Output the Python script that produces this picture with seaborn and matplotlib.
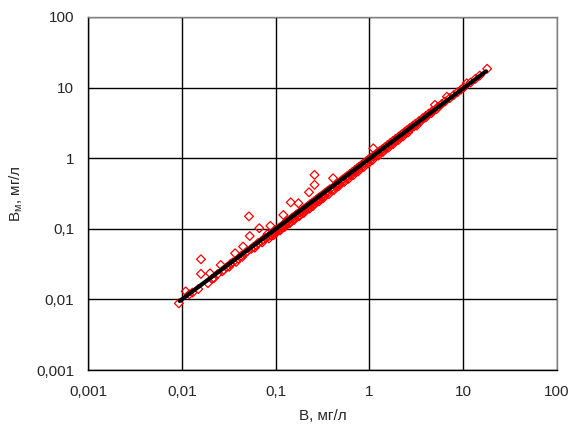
import matplotlib
matplotlib.use("Agg")
import matplotlib.pyplot as plt
import matplotlib.ticker as mticker
import seaborn as sns
import pandas as pd

b_obs = [
    0.0093, 0.011, 0.012, 0.013, 0.016, 0.016, 0.019, 0.02, 0.021, 0.024,
    0.026, 0.028, 0.03, 0.033, 0.035, 0.037, 0.04, 0.043, 0.045, 0.047,
    0.05, 0.052, 0.053, 0.055, 0.058, 0.062, 0.065, 0.067, 0.07, 0.074,
    0.078, 0.082, 0.084, 0.088, 0.092, 0.096, 0.1, 0.105, 0.11, 0.115,
    0.12, 0.121, 0.125, 0.13, 0.135, 0.14, 0.145, 0.15, 0.155, 0.16,
    0.165, 0.17, 0.175, 0.18, 0.19, 0.2, 0.21, 0.22, 0.227, 0.235,
    0.245, 0.255, 0.26, 0.26, 0.27, 0.28, 0.29, 0.3, 0.32, 0.34,
    0.36, 0.38, 0.41, 0.43, 0.46, 0.49, 0.52, 0.55, 0.58, 0.62,
    0.66, 0.7, 0.74, 0.78, 0.83, 0.88, 0.93, 0.98, 1.03, 1.1,
    1.1, 1.16, 1.23, 1.3, 1.38, 1.47, 1.56, 1.66, 1.78, 1.9,
    2.05, 2.2, 2.35, 2.5, 2.7, 2.9, 3.1, 3.4, 3.7, 4.0,
    4.3, 4.7, 5.0, 5.4, 5.9, 6.4, 6.7, 7.2, 7.9, 8.7,
    9.5, 10.2, 10.9, 12.0, 13.5, 15.0, 18.0,
    0.015, 0.022, 0.027, 0.032, 0.038, 0.044, 0.06, 0.072, 0.09, 0.1,
    0.108, 0.118, 0.128, 0.138, 0.15, 0.16, 0.175, 0.19, 0.205, 0.22,
    0.24, 0.26, 0.28, 0.3, 0.33, 0.36, 0.4, 0.44, 0.48, 0.53,
    0.58, 0.64, 0.7, 0.77, 0.85, 0.95, 1.05, 1.2, 1.35, 1.5,
    1.7, 1.9, 2.15, 2.4, 2.7, 3.0, 3.5, 4.0, 4.6, 5.2,
    0.085, 0.095, 0.112, 0.125, 0.142, 0.158, 0.178, 0.2, 0.23, 0.25,
    0.29, 0.32, 0.37, 0.42, 0.47, 0.54, 0.6, 0.68, 0.76, 0.87,
    0.97, 1.08, 1.25, 1.4, 1.6, 1.8, 2.05, 2.3, 2.6, 3.2,
]
b_mod = [
    0.0088, 0.013, 0.0118, 0.0125, 0.037, 0.023, 0.017, 0.0234, 0.0195, 0.0228,
    0.0307, 0.0262, 0.0285, 0.0318, 0.0335, 0.045, 0.0378, 0.0415, 0.056, 0.0445,
    0.048, 0.15, 0.079, 0.052, 0.0555, 0.058, 0.063, 0.102, 0.066, 0.071,
    0.074, 0.084, 0.078, 0.11, 0.087, 0.091, 0.096, 0.1, 0.104, 0.108,
    0.113, 0.157, 0.119, 0.123, 0.128, 0.133, 0.237, 0.143, 0.147, 0.152,
    0.157, 0.162, 0.23, 0.171, 0.18, 0.19, 0.199, 0.209, 0.329, 0.225,
    0.233, 0.243, 0.58, 0.42, 0.257, 0.267, 0.276, 0.286, 0.305, 0.325,
    0.345, 0.364, 0.52, 0.41, 0.44, 0.47, 0.5, 0.53, 0.56, 0.6,
    0.64, 0.68, 0.72, 0.76, 0.81, 0.86, 0.91, 0.96, 1.01, 1.38,
    1.07, 1.13, 1.2, 1.27, 1.35, 1.44, 1.53, 1.63, 1.75, 1.87,
    2.02, 2.17, 2.32, 2.48, 2.68, 2.88, 3.08, 3.38, 3.68, 3.98,
    4.28, 4.68, 5.7, 5.35, 5.85, 6.35, 7.43, 7.1, 7.8, 8.6,
    9.4, 10.1, 11.5, 11.8, 13.3, 14.8, 18.5,
    0.014, 0.02, 0.025, 0.029, 0.034, 0.04, 0.054, 0.064, 0.08, 0.088,
    0.095, 0.104, 0.112, 0.12, 0.131, 0.139, 0.152, 0.165, 0.178, 0.192,
    0.21, 0.228, 0.246, 0.264, 0.292, 0.32, 0.356, 0.393, 0.43, 0.476,
    0.523, 0.578, 0.634, 0.7, 0.775, 0.868, 0.96, 1.1, 1.24, 1.38,
    1.57, 1.76, 2.0, 2.24, 2.53, 2.82, 3.3, 3.78, 4.36, 4.95,
    0.073, 0.081, 0.095, 0.106, 0.12, 0.134, 0.15, 0.168, 0.193, 0.21,
    0.244, 0.27, 0.31, 0.355, 0.4, 0.46, 0.51, 0.58, 0.65, 0.75,
    0.84, 0.94, 1.09, 1.23, 1.41, 1.59, 1.82, 2.05, 2.33, 2.9,
]

# fitted line B_m = f(B)
line_x = [0.0095, 17.5]
line_y = [0.0095, 17.0]

tick_vals = [0.001, 0.01, 0.1, 1, 10, 100]
tick_labels = ["0,001", "0,01", "0,1", "1", "10", "100"]

sns.set_style("white")
plt.rcParams["font.family"] = ["Liberation Sans", "DejaVu Sans"]
plt.rcParams["mathtext.fontset"] = "custom"
plt.rcParams["mathtext.rm"] = "Liberation Sans"

df = pd.DataFrame({"B": b_obs, "Bm": b_mod})
df_line = pd.DataFrame({"B": line_x, "Bm": line_y})

fig = plt.figure(figsize=(5.77, 4.36), dpi=100)
ax = fig.add_axes([88 / 577, 66 / 436, 469 / 577, 353 / 436])

sns.scatterplot(data=df, x="B", y="Bm", ax=ax, marker="D", s=20,
                facecolor="none", edgecolor="#ff0000", linewidth=0.9, zorder=3)
sns.lineplot(data=df_line, x="B", y="Bm", ax=ax, color="black", linewidth=3,
             zorder=4)

ax.set_xscale("log")
ax.set_yscale("log")
ax.set_xlim(0.001, 100)
ax.set_ylim(0.001, 100)
ax.xaxis.set_major_locator(mticker.FixedLocator(tick_vals))
ax.yaxis.set_major_locator(mticker.FixedLocator(tick_vals))
ax.xaxis.set_minor_locator(mticker.NullLocator())
ax.yaxis.set_minor_locator(mticker.NullLocator())
ax.set_xticklabels(tick_labels)
ax.set_yticklabels(tick_labels)
ax.tick_params(length=0, labelsize=11)
ax.tick_params(axis="x", pad=11)
ax.tick_params(axis="y", pad=10)
ax.grid(True, color="black", linewidth=1)
ax.set_axisbelow(True)

for side in ["left", "bottom"]:
    ax.spines[side].set_color("black")
    ax.spines[side].set_linewidth(1)
for side in ["top", "right"]:
    ax.spines[side].set_color("#808080")
    ax.spines[side].set_linewidth(1)

ax.set_xlabel("B, мг/л", fontsize=11, labelpad=7)
ax.set_ylabel("B$_\\mathregular{м}$, мг/л", fontsize=11, labelpad=8)

fig.savefig("out.png", dpi=100)
